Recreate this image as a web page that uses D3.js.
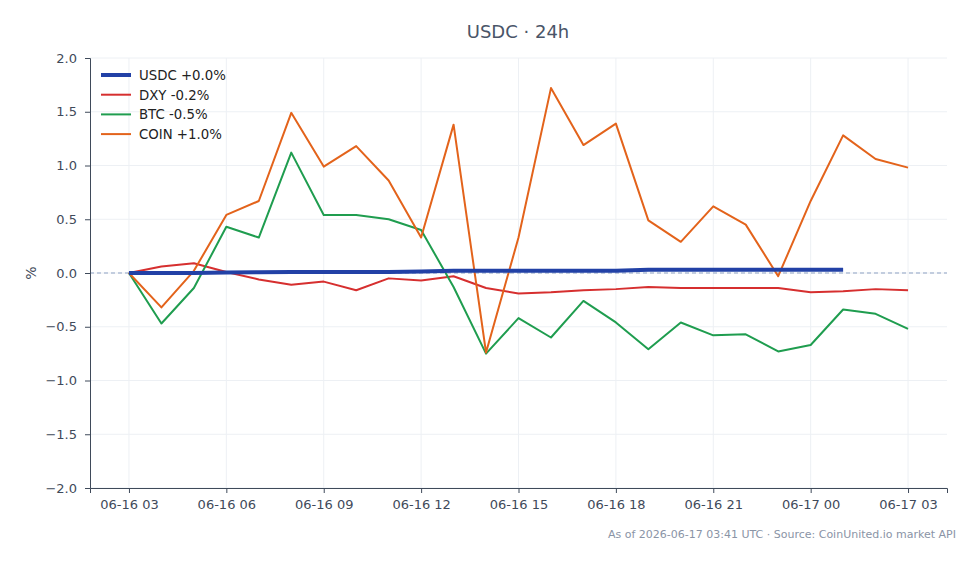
<!DOCTYPE html>
<html>
<head>
<meta charset="utf-8">
<script src="https://cdn.jsdelivr.net/npm/d3@7"></script>
<style>
  body { margin: 0; background: #fff; }
  svg { font-family: "DejaVu Sans", sans-serif; }
</style>
</head>
<body>
<svg width="979" height="564"></svg>
<script>
// hourly points, 06-16 03:00 .. 06-17 03:00 UTC
var startTime = new Date(Date.UTC(2026, 5, 16, 3));
var xTickLabels = ["06-16 03", "06-16 06", "06-16 09", "06-16 12", "06-16 15", "06-16 18", "06-16 21", "06-17 00", "06-17 03"];
var yTicks = [-2, -1.5, -1, -0.5, 0, 0.5, 1, 1.5, 2];

var usdc = [0, 0, 0, 0.005, 0.008, 0.01, 0.01, 0.01, 0.01, 0.015, 0.02, 0.02, 0.02, 0.02, 0.02, 0.02, 0.03, 0.03, 0.03, 0.03, 0.03, 0.03, 0.03];
var dxy = [0, 0.06, 0.09, 0.01, -0.06, -0.11, -0.08, -0.16, -0.05, -0.07, -0.03, -0.14, -0.19, -0.18, -0.16, -0.15, -0.13, -0.14, -0.14, -0.14, -0.14, -0.18, -0.17, -0.15, -0.16];
var btc = [0, -0.47, -0.14, 0.43, 0.33, 1.12, 0.54, 0.54, 0.50, 0.40, -0.13, -0.75, -0.42, -0.60, -0.26, -0.46, -0.71, -0.46, -0.58, -0.57, -0.73, -0.67, -0.34, -0.38, -0.52];
var coin = [0, -0.32, 0.02, 0.54, 0.67, 1.49, 0.99, 1.18, 0.86, 0.33, 1.38, -0.74, 0.33, 1.72, 1.19, 1.39, 0.49, 0.29, 0.62, 0.45, -0.03, 0.67, 1.28, 1.06, 0.98];

var seriesNames = ["USDC +0.0%", "DXY -0.2%", "BTC -0.5%", "COIN +1.0%"];
var seriesColors = ["#2241a6", "#d62f2f", "#1f9d4f", "#e3631b"];
var seriesWidths = [4, 2, 2, 2];
var seriesData = [usdc, dxy, btc, coin];

var svg = d3.select("svg");
var plotL = 90, plotR = 947, plotT = 58, plotB = 488;

var t = function (h) { return new Date(startTime.getTime() + h * 3600000); };
var x = d3.scaleUtc().domain([t(-1.2), t(25.2)]).range([plotL, plotR]);
var y = d3.scaleLinear().domain([-2, 2]).range([plotB, plotT]);

// grid
svg.append("g").selectAll("line").data(yTicks).join("line")
  .attr("x1", plotL).attr("x2", plotR)
  .attr("y1", d => y(d)).attr("y2", d => y(d))
  .attr("stroke", "#edf0f4").attr("stroke-width", 1);
svg.append("g").selectAll("line").data(d3.range(0, 25, 3)).join("line")
  .attr("x1", d => x(t(d))).attr("x2", d => x(t(d)))
  .attr("y1", plotT).attr("y2", plotB)
  .attr("stroke", "#edf0f4").attr("stroke-width", 1);

// zero line
svg.append("line")
  .attr("x1", plotL).attr("x2", plotR).attr("y1", y(0)).attr("y2", y(0))
  .attr("stroke", "#8fa3c4").attr("stroke-width", 1).attr("stroke-dasharray", "4,3");

// lines, usdc drawn last so it sits on top
var line = d3.line().x((d, i) => x(t(i))).y(d => y(d));
[1, 2, 3, 0].forEach(function (k) {
  svg.append("path").datum(seriesData[k])
    .attr("d", line)
    .attr("fill", "none")
    .attr("stroke", seriesColors[k])
    .attr("stroke-width", seriesWidths[k])
    .attr("stroke-linejoin", "round");
});

// axes
var xAxis = d3.axisBottom(x)
  .tickValues(d3.range(0, 25, 3).map(t))
  .tickFormat((d, i) => xTickLabels[i])
  .tickSizeOuter(0).tickSize(5).tickPadding(7);
var gx = svg.append("g").attr("transform", "translate(0," + plotB + ")").call(xAxis);
gx.select(".domain").attr("stroke", "#3f4a5a");
gx.selectAll(".tick line").attr("stroke", "#3f4a5a");
gx.selectAll("text").attr("fill", "#3f4a5a").style("font-size", "13px").style("font-family", "DejaVu Sans");

var yAxis = d3.axisLeft(y).tickValues(yTicks)
  .tickFormat(d => d3.format(".1f")(d))
  .tickSizeOuter(0).tickSize(5).tickPadding(8);
var gy = svg.append("g").attr("transform", "translate(" + plotL + ",0)").call(yAxis);
gy.select(".domain").attr("stroke", "#3f4a5a");
gy.selectAll(".tick line").attr("stroke", "#3f4a5a");
gy.selectAll("text").attr("fill", "#3f4a5a").style("font-size", "13px").style("font-family", "DejaVu Sans");

// y label
svg.append("text")
  .attr("transform", "translate(36," + y(0) + ") rotate(-90)")
  .attr("text-anchor", "middle")
  .attr("fill", "#3f4a5a").style("font-size", "14px")
  .text("%");

// title
svg.append("text")
  .attr("x", 518).attr("y", 38)
  .attr("text-anchor", "middle")
  .attr("fill", "#4a5568").style("font-size", "18px")
  .text("USDC · 24h");

// legend
var lg = svg.append("g").selectAll("g").data(seriesNames).join("g")
  .attr("transform", (d, i) => "translate(101," + (75 + i * 19.7) + ")");
lg.append("line").attr("x1", 0).attr("x2", 30).attr("y1", 0).attr("y2", 0)
  .attr("stroke", (d, i) => seriesColors[i])
  .attr("stroke-width", (d, i) => seriesWidths[i]);
lg.append("text").attr("x", 38).attr("y", 5)
  .attr("fill", "#222").style("font-size", "13.3px")
  .text(d => d);

// footer
svg.append("text")
  .attr("x", 956).attr("y", 538)
  .attr("text-anchor", "end")
  .attr("fill", "#8a94a6").style("font-size", "11px")
  .text("As of 2026-06-17 03:41 UTC · Source: CoinUnited.io market API");
</script>
</body>
</html>
